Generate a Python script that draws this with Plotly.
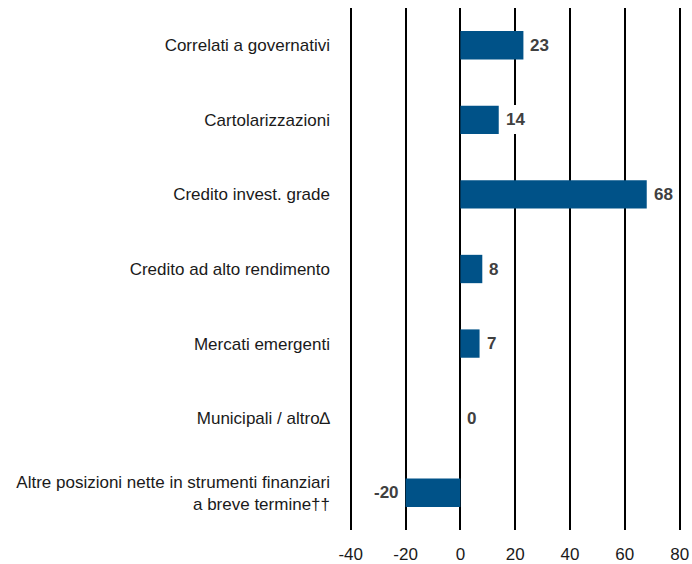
import plotly.graph_objects as go

categories = [
    "Correlati a governativi",
    "Cartolarizzazioni",
    "Credito invest. grade",
    "Credito ad alto rendimento",
    "Mercati emergenti",
    "Municipali / altro∆",
    "Altre posizioni nette in strumenti finanziari<br>a breve termine††",
]
values = [23, 14, 68, 8, 7, 0, -20]
tick_vals = [-40, -20, 0, 20, 40, 60, 80]
tick_text = ["-40", "-20", "0", "20", "40", "60", "80"]

FONT = "Liberation Sans Narrow, Arial Narrow, Liberation Sans, Arial"

fig = go.Figure(
    go.Bar(
        x=values,
        y=categories,
        orientation="h",
        marker=dict(color="#005288", line=dict(width=0)),
        width=0.38,
        cliponaxis=False,
        hoverinfo="skip",
    )
)

for cat, v in zip(categories, values):
    fig.add_annotation(
        x=v,
        y=cat,
        text=f"<b>{v}</b>",
        showarrow=False,
        xanchor="left" if v >= 0 else "right",
        xshift=2 if v >= 0 else -2,
        bgcolor="white",
        borderpad=5,
        borderwidth=0,
        font=dict(family=FONT, size=17, color="#404040"),
    )

fig.update_layout(
    width=692,
    height=564,
    margin=dict(l=348, r=11, t=8, b=34),
    plot_bgcolor="white",
    paper_bgcolor="white",
    showlegend=False,
    font=dict(family=FONT, size=17, color="#1a1a1a"),
)
fig.update_xaxes(
    range=[-41, 80.5],
    tickvals=tick_vals,
    ticktext=tick_text,
    showgrid=True,
    gridcolor="black",
    gridwidth=2,
    zeroline=False,
    showline=False,
    ticks="",
    ticklabelstandoff=12,
    tickfont=dict(size=17),
    automargin=False,
)
fig.update_yaxes(
    categoryorder="array",
    categoryarray=categories,
    autorange="reversed",
    showgrid=False,
    zeroline=False,
    showline=False,
    ticks="",
    ticklabelstandoff=17,
    tickfont=dict(size=17),
    automargin=False,
)

fig.write_html(
    "out.html",
    config={"displayModeBar": False},
    post_script="document.body.style.margin='0';",
)
